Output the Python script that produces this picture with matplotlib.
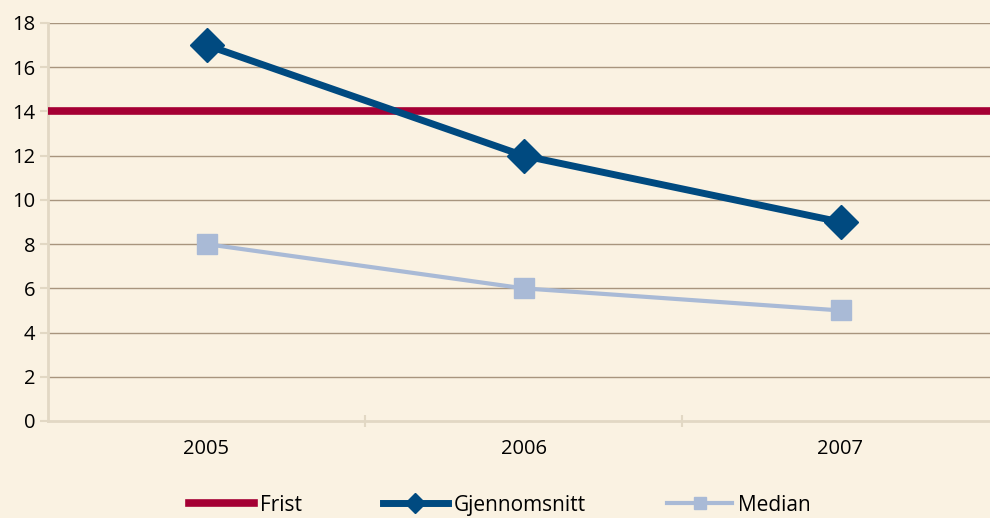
import matplotlib.pyplot as plt

years = ["2005", "2006", "2007"]
frist = [14, 14, 14]
gjennomsnitt = [17, 12, 9]
median = [8, 6, 5]
yticks = [0, 2, 4, 6, 8, 10, 12, 14, 16, 18]

plt.rcParams['font.family'] = ['Open Sans', 'DejaVu Sans']
bg = "#faf2e2"

fig = plt.figure(figsize=(9.9, 5.18), dpi=100, facecolor=bg)
# axes run past the right edge, like the cropped original
ax = fig.add_axes([48 / 990, 1 - 421 / 518, (999 - 48) / 990, (421 - 23) / 518])
ax.set_facecolor(bg)

x = range(len(years))
ax.axhline(frist[0], color="#a50034", lw=5.5, label="Frist", zorder=3)
ax.plot(x, gjennomsnitt, color="#004a80", lw=5, marker="D", ms=17,
        label="Gjennomsnitt", zorder=4)
ax.plot(x, median, color="#a9bad6", lw=3, marker="s", ms=15,
        label="Median", zorder=3)

ax.set_xlim(-0.5, 2.5)
ax.set_ylim(0, 18)
ax.set_yticks(yticks)
ax.set_xticks(list(x))
ax.set_xticklabels(years)
ax.set_xticks([0.5, 1.5], minor=True)
for y in yticks[1:]:
    ax.axhline(y, color="#a8957e", lw=1, zorder=1)

for s in ["top", "right"]:
    ax.spines[s].set_visible(False)
for s in ["left", "bottom"]:
    ax.spines[s].set_color("#e2d8c4")
    ax.spines[s].set_linewidth(2)
ax.tick_params(axis="y", length=6, width=1.5, color="#e2d8c4", labelsize=14.5, pad=3)
ax.tick_params(axis="x", which="major", length=0, labelsize=14.5, pad=13)
ax.tick_params(axis="x", which="minor", length=8, width=1.5, color="#e2d8c4",
               direction="inout")
ax.set_xticklabels([], minor=True)

fig.legend(loc="center", bbox_to_anchor=(0.505, 0.025), ncol=3, frameon=False,
           fontsize=15, handlelength=3.1, columnspacing=3.9, handletextpad=0.3,
           markerscale=0.6)

fig.savefig("out.png", dpi=100, facecolor=bg)
